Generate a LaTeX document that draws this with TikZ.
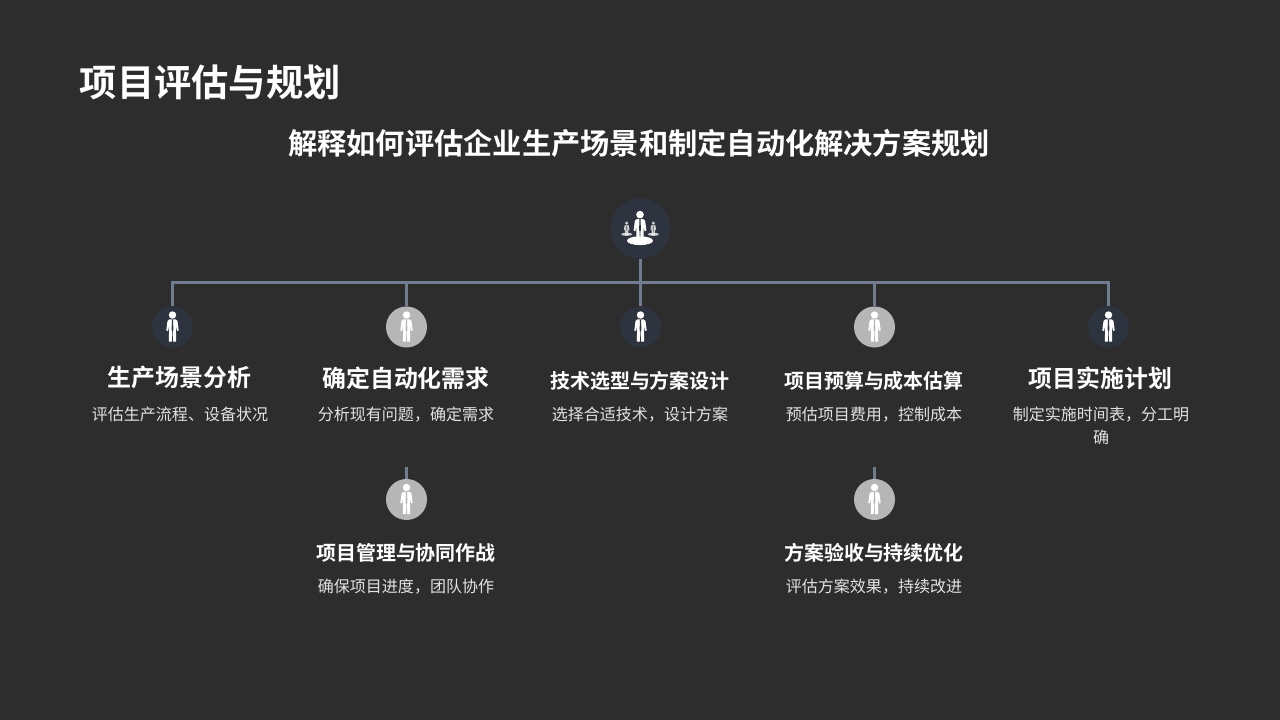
\documentclass[tikz,border=0pt]{standalone}
\usepackage{fontspec}
\setmainfont{Noto Sans CJK SC}
\newfontfamily\heavycjk{Noto Sans CJK SC Bold}
\definecolor{bgdark}{RGB}{45,45,45}
\definecolor{navy}{RGB}{46,52,63}
\definecolor{greydot}{RGB}{182,182,182}
\definecolor{linkcol}{RGB}{112,124,144}
\definecolor{desccol}{RGB}{226,226,226}
\tikzset{
	person/.pic={
		\fill[white] (0,-12) circle (3.7);
		\fill[white] (-3.2,-7.6) -- (3.2,-7.6) -- (5,-6) -- (6.2,3.5) -- (4.4,4) -- (3.4,-1.5) -- (3.6,14.6) -- (0.6,14.6) -- (0.4,4.5) -- (-0.4,4.5) -- (-0.6,14.6) -- (-3.6,14.6) -- (-3.4,-1.5) -- (-4.4,4) -- (-6.2,3.5) -- (-5,-6) -- cycle;
		\fill[pic actions] (-0.5,-7.6) -- (0.5,-7.6) -- (0.9,3) -- (0,5) -- (-0.9,3) -- cycle;
	}
}
\begin{document}
\begin{tikzpicture}[x=0.025cm,y=-0.025cm,
	dotnavy/.style={circle,fill=navy,minimum size=1.025cm,inner sep=0pt},
	dotgrey/.style={circle,fill=greydot,minimum size=1.025cm,inner sep=0pt},
	link/.style={draw=linkcol,line width=2.2pt},
	head/.style={text=white,font=\fontsize{17}{20}\selectfont\heavycjk,inner sep=0pt},
	headsmall/.style={text=white,font=\fontsize{14.2}{17}\selectfont\heavycjk,inner sep=0pt},
	desc/.style={text=desccol,font=\fontsize{11.4}{16.4}\selectfont,inner sep=0pt,align=center}]
	% background
	\fill[bgdark] (0,0) rectangle (1280,720);
	% titles
	\node[anchor=west,text=white,inner sep=0pt,font=\fontsize{26.5}{30}\selectfont\heavycjk] (title) at (79.5,82) {项目评估与规划};
	\node[text=white,inner sep=0pt,font=\fontsize{20.8}{25}\selectfont\heavycjk] (subtitle) at (639,143) {解释如何评估企业生产场景和制定自动化解决方案规划};
	% circles
	\node[dotnavy,minimum size=1.5cm] (root) at (640.5,228.5) {};
	\node[dotnavy] (scene) at (172.5,327) {};
	\node[dotgrey] (need) at (406.5,327) {};
	\node[dotnavy] (tech) at (640.5,327) {};
	\node[dotgrey] (budget) at (874.5,327) {};
	\node[dotnavy] (plan) at (1108.5,327) {};
	\node[dotgrey] (manage) at (406.5,499.5) {};
	\node[dotgrey] (accept) at (874.5,499.5) {};
	% connectors
	\coordinate (bus) at (640.5,282.5);
	\coordinate (managetop) at (406.5,467);
	\coordinate (accepttop) at (874.5,467);
	\draw[link] (root) -- (tech);
	\draw[link] (scene) |- (bus) -| (plan);
	\draw[link] (need) -- (need|-bus);
	\draw[link] (budget) -- (budget|-bus);
	\draw[link] (manage) -- (managetop);
	\draw[link] (accept) -- (accepttop);
	% icons
	\pic[fill=navy] at (scene) {person};
	\pic[fill=greydot] at (need) {person};
	\pic[fill=navy] at (tech) {person};
	\pic[fill=greydot] at (budget) {person};
	\pic[fill=navy] at (plan) {person};
	\pic[fill=greydot] at (manage) {person};
	\pic[fill=greydot] at (accept) {person};
	% icon of the root
	\fill[white] (640,240.7) ellipse (13 and 4.4);
	\fill[white,opacity=.75] (626.7,234.3) ellipse (5.6 and 1.6);
	\fill[white,opacity=.75] (653.3,234.3) ellipse (5.6 and 1.6);
	\pic[fill=navy,scale=1.03] at (640,227) {person};
	\pic[fill=navy,scale=.45,opacity=.75] at (626.7,228.5) {person};
	\pic[fill=navy,scale=.45,opacity=.75] at (653.3,228.5) {person};
	% labels
	\node[head] (scenehead) at (179.5,378) {生产场景分析};
	\node[desc] (scenedesc) at (180,414.5) {评估生产流程、设备状况};
	\node[head] (needhead) at (406,378) {确定自动化需求};
	\node[desc] (needdesc) at (406,414.5) {分析现有问题，确定需求};
	\node[headsmall] (techhead) at (640,380.5) {技术选型与方案设计};
	\node[desc] (techdesc) at (640,414.5) {选择合适技术，设计方案};
	\node[headsmall] (budgethead) at (874,380.5) {项目预算与成本估算};
	\node[desc] (budgetdesc) at (874,414.5) {预估项目费用，控制成本};
	\node[head] (planhead) at (1100.5,378) {项目实施计划};
	\node[desc,anchor=north] (plandesc) at (1101,407) {制定实施时间表，分工明\\确};
	\node[headsmall] (managehead) at (406,552.5) {项目管理与协同作战};
	\node[desc] (managedesc) at (406,586.5) {确保项目进度，团队协作};
	\node[headsmall] (accepthead) at (874,552.5) {方案验收与持续优化};
	\node[desc] (acceptdesc) at (874,586.5) {评估方案效果，持续改进};
\end{tikzpicture}
\end{document}
